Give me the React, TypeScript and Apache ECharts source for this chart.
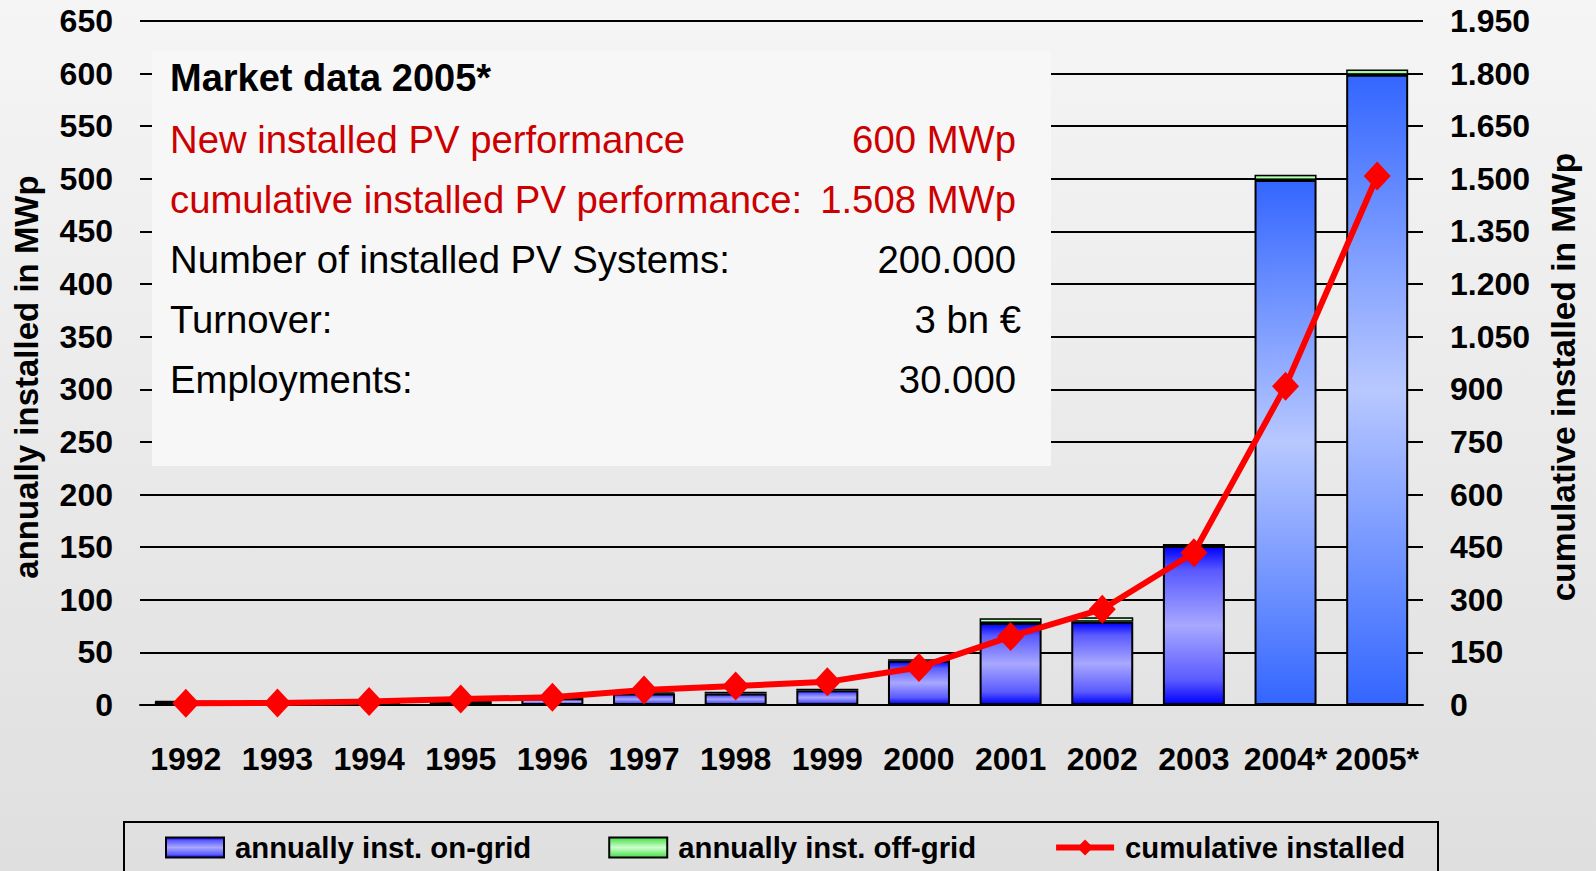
import React, { useEffect, useRef } from 'react';
import * as echarts from 'echarts';

const years = ['1992', '1993', '1994', '1995', '1996', '1997', '1998', '1999', '2000', '2001', '2002', '2003', '2004*', '2005*'];
const onGrid = [3, 2, 2.5, 3, 6.5, 11, 11, 14, 42, 78, 79, 151, 499, 599];
const offGrid = [0.5, 0.5, 0.5, 0.5, 0.5, 1, 1.5, 1.5, 1.5, 4.5, 4.5, 2, 5, 5];
const cumulative = [5, 6, 10, 17, 22, 43, 54, 66, 107, 195, 273, 434, 909, 1508];

const leftTitle = 'annually installed in MWp';
const rightTitle = 'cumulative installed in MWp';
const boxTitle = 'Market data 2005*';
const boxLabels = ['New installed PV performance', 'cumulative installed PV performance:', 'Number of installed PV Systems:', 'Turnover:', 'Employments:'];
const boxValues = ['600 MWp', '1.508 MWp', '200.000', '3 bn €', '30.000'];

const FONT = '"Liberation Sans", Arial, Helvetica, sans-serif';

export default function App() {
  const ref = useRef<HTMLDivElement>(null);
  useEffect(() => {
    const chart = echarts.init(ref.current as HTMLDivElement, null, { renderer: 'svg' });
    const G = echarts.graphic.LinearGradient;
    const smallBlue = () => new G(0, 0, 0, 1, [
      { offset: 0, color: '#0000ff' },
      { offset: 0.15, color: '#5a5aff' },
      { offset: 0.5, color: '#a8a8ff' },
      { offset: 0.85, color: '#5a5aff' },
      { offset: 1, color: '#0000ff' },
    ]);
    const bigBlue = () => new G(0, 0, 0, 1, [
      { offset: 0, color: '#3366ff' },
      { offset: 0.5, color: '#b8c8ff' },
      { offset: 1, color: '#3366ff' },
    ]);
    const green = () => new G(0, 0, 0, 1, [
      { offset: 0, color: '#44dd44' },
      { offset: 0.5, color: '#ccffcc' },
      { offset: 1, color: '#44dd44' },
    ]);

    const rowY = [139.5, 199.5, 259.6, 319.7, 379.7];
    const rowColors = ['#cc0000', '#cc0000', '#000', '#000', '#000'];
    const rowRight = [1016, 1016, 1016, 1021, 1016];

    const graphic: any[] = [
      { type: 'rect', z: 1, shape: { x: 152, y: 51, width: 899, height: 415 }, style: { fill: '#f7f7f7' } },
      { type: 'text', z: 5, x: 170, y: 78, style: { text: boxTitle, font: `bold 38px ${FONT}`, fill: '#000', align: 'left', verticalAlign: 'middle' } },
      { type: 'rect', z: 1, shape: { x: 124, y: 822, width: 1314, height: 80 }, style: { fill: 'none', stroke: '#000', lineWidth: 2 } },
      { type: 'text', z: 5, x: 26, y: 377, rotation: Math.PI / 2, style: { text: leftTitle, font: `bold 33px ${FONT}`, fill: '#000', align: 'center', verticalAlign: 'middle' } },
      { type: 'text', z: 5, x: 1563, y: 377, rotation: Math.PI / 2, style: { text: rightTitle, font: `bold 33.5px ${FONT}`, fill: '#000', align: 'center', verticalAlign: 'middle' } },
    ];
    boxLabels.forEach((t, i) => {
      graphic.push({ type: 'text', z: 5, x: 170, y: rowY[i], style: { text: t, font: `38.3px ${FONT}`, fill: rowColors[i], align: 'left', verticalAlign: 'middle' } });
      graphic.push({ type: 'text', z: 5, x: rowRight[i], y: rowY[i], style: { text: boxValues[i], font: `38.3px ${FONT}`, fill: rowColors[i], align: 'right', verticalAlign: 'middle' } });
    });

    const option: any = {
      animation: false,
      backgroundColor: new G(0, 0, 0, 1, [
        { offset: 0, color: '#f5f5f5' },
        { offset: 1, color: '#dfdfdf' },
      ]),
      textStyle: { fontFamily: FONT },
      grid: { left: 140, right: 173, top: 21, bottom: 166, containLabel: false },
      legend: {
        left: 160,
        top: 828,
        itemWidth: 58,
        itemHeight: 20,
        itemGap: 77,
        textStyle: { fontSize: 29.3, fontWeight: 'bold', color: '#000', fontFamily: FONT, padding: [0, 0, 0, 6] },
        data: [
          { name: 'annually inst. on-grid', icon: 'rect' },
          { name: 'annually inst. off-grid', icon: 'rect' },
          { name: 'cumulative installed', lineStyle: { width: 6, color: '#ff0000' } },
        ],
      },
      xAxis: {
        type: 'category',
        data: years,
        axisLine: { show: true, lineStyle: { color: '#000', width: 2 } },
        axisTick: { show: false },
        axisLabel: { interval: 0, fontSize: 32, fontWeight: 'bold', color: '#000', margin: 38, fontFamily: FONT },
      },
      yAxis: [
        {
          type: 'value', min: 0, max: 650, interval: 50,
          axisLine: { show: false }, axisTick: { show: false },
          axisLabel: { fontSize: 32, fontWeight: 'bold', color: '#000', margin: 27, fontFamily: FONT },
          splitLine: { show: true, lineStyle: { color: '#000', width: 2 } },
        },
        {
          type: 'value', min: 0, max: 1950, interval: 150, position: 'right',
          axisLine: { show: false }, axisTick: { show: false },
          axisLabel: {
            fontSize: 32, fontWeight: 'bold', color: '#000', margin: 27, fontFamily: FONT,
            formatter: (v: number) => v.toLocaleString('de-DE'),
          },
          splitLine: { show: false },
        },
      ],
      series: [
        {
          name: 'annually inst. on-grid', type: 'bar', stack: 'a', barWidth: 62,
          itemStyle: { color: smallBlue(), borderColor: '#000', borderWidth: 2 },
          data: onGrid.map((v, i) => (i >= 12 ? { value: v, itemStyle: { color: bigBlue(), borderColor: '#000', borderWidth: 2 } } : v)),
        },
        {
          name: 'annually inst. off-grid', type: 'bar', stack: 'a', barWidth: 62,
          itemStyle: { color: green(), borderColor: '#000', borderWidth: 1.5 },
          data: offGrid,
        },
        {
          name: 'cumulative installed', type: 'line', yAxisIndex: 1, z: 4,
          symbol: 'diamond', symbolSize: [27, 29],
          lineStyle: { color: '#ff0000', width: 6 },
          itemStyle: { color: '#ff0000' },
          data: cumulative,
        },
      ],
      graphic,
    };
    chart.setOption(option);
    return () => chart.dispose();
  }, []);
  return <div ref={ref} style={{ position: 'absolute', left: 0, top: 0, width: 1596, height: 871 }} />;
}
